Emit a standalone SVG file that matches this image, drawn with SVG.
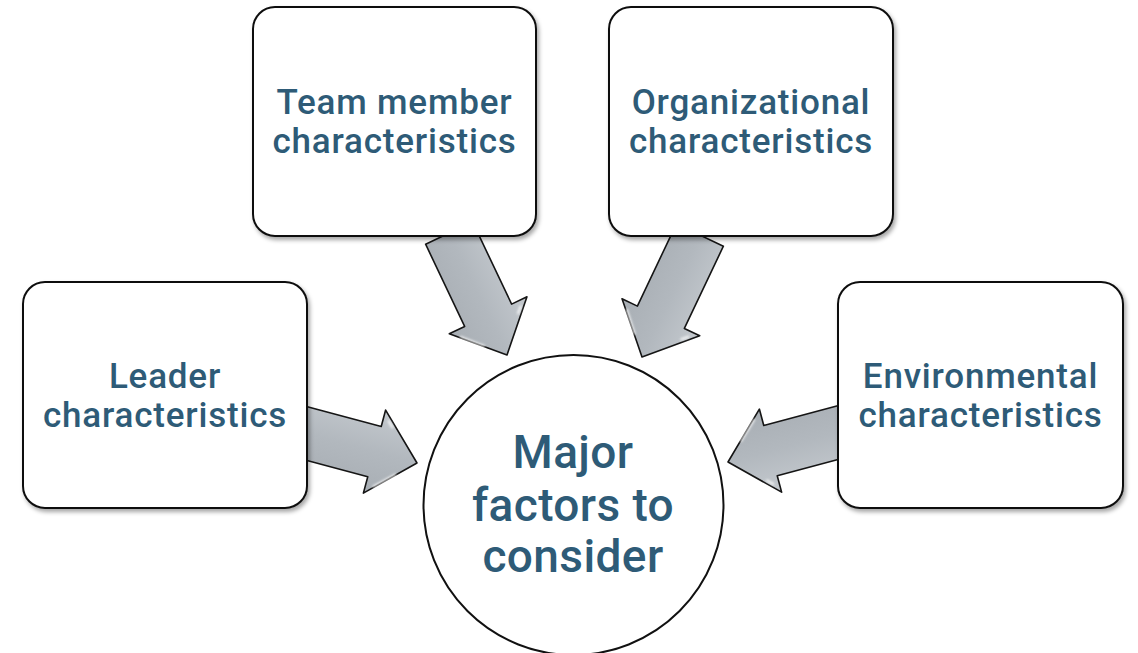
<svg xmlns="http://www.w3.org/2000/svg" width="1138" height="653" viewBox="0 0 1138 653">
  <style>
    .box { fill: #ffffff; stroke: #111111; stroke-width: 2; filter: url(#shadow); }
    .hub { fill: #ffffff; stroke: #111111; stroke-width: 2; }
    .label { font-family: Roboto, "Liberation Sans", sans-serif; font-weight: 500; fill: #2e5b77; text-anchor: middle; }
    .small { font-size: 35px; letter-spacing: 0.8px; }
    .big { font-size: 46px; letter-spacing: 0.4px; }
    .arrow { fill: url(#steel); stroke: #151515; stroke-width: 1.6; stroke-linejoin: round; }
    .gloss { fill: none; stroke: #ffffff; stroke-width: 2.2; stroke-linecap: round; opacity: 0.85; filter: url(#soft); }
  </style>
  <defs>
    <filter id="shadow" x="-10%" y="-10%" width="125%" height="125%">
      <feDropShadow dx="2" dy="3" stdDeviation="2.2" flood-color="#000000" flood-opacity="0.35"/>
    </filter>
    <filter id="soft" x="-50%" y="-50%" width="200%" height="200%">
      <feGaussianBlur stdDeviation="0.8"/>
    </filter>
    <linearGradient id="steel" x1="0" y1="0" x2="0" y2="1">
      <stop offset="0" stop-color="#c4c9ce"/>
      <stop offset="0.5" stop-color="#b2b8be"/>
      <stop offset="1" stop-color="#a8aeb4"/>
    </linearGradient>
    <!-- block arrow, tip at the origin, pointing along +x -->
    <g id="blockArrow">
      <path class="arrow" d="M -135,-26 L -44,-26 L -44,-43 L 0,0 L -44,43 L -44,26 L -135,26 Z"/>
      <path class="gloss" d="M -36,34 L -18,17"/>
      <path class="gloss" d="M -38,-33 L -33,-28"/>
    </g>
  </defs>

  <!-- connectors: block arrows pointing at the hub -->
  <g id="connectors">
    <use href="#blockArrow" transform="translate(417,463) rotate(15)"/>
    <use href="#blockArrow" transform="translate(507,355) rotate(64.6)"/>
    <use href="#blockArrow" transform="translate(642,357) rotate(115.4)"/>
    <use href="#blockArrow" transform="translate(728,462) rotate(165)"/>
  </g>

  <g id="leader">
    <rect class="box" x="23" y="282" width="284" height="226" rx="22"/>
    <text class="label small" x="165" y="388">Leader</text>
    <text class="label small" x="165" y="427">characteristics</text>
  </g>

  <g id="team-member">
    <rect class="box" x="253" y="7" width="283" height="229" rx="22"/>
    <text class="label small" x="394.5" y="114">Team member</text>
    <text class="label small" x="394.5" y="153">characteristics</text>
  </g>

  <g id="organizational">
    <rect class="box" x="609" y="7" width="284" height="229" rx="22"/>
    <text class="label small" x="751" y="114">Organizational</text>
    <text class="label small" x="751" y="153">characteristics</text>
  </g>

  <g id="environmental">
    <rect class="box" x="838" y="282" width="285" height="226" rx="22"/>
    <text class="label small" x="980.5" y="388">Environmental</text>
    <text class="label small" x="980.5" y="427">characteristics</text>
  </g>

  <g id="major-factors">
    <circle class="hub" cx="573.5" cy="505" r="150"/>
    <text class="label big" x="573" y="468">Major</text>
    <text class="label big" x="573" y="521">factors to</text>
    <text class="label big" x="573" y="572">consider</text>
  </g>
</svg>
